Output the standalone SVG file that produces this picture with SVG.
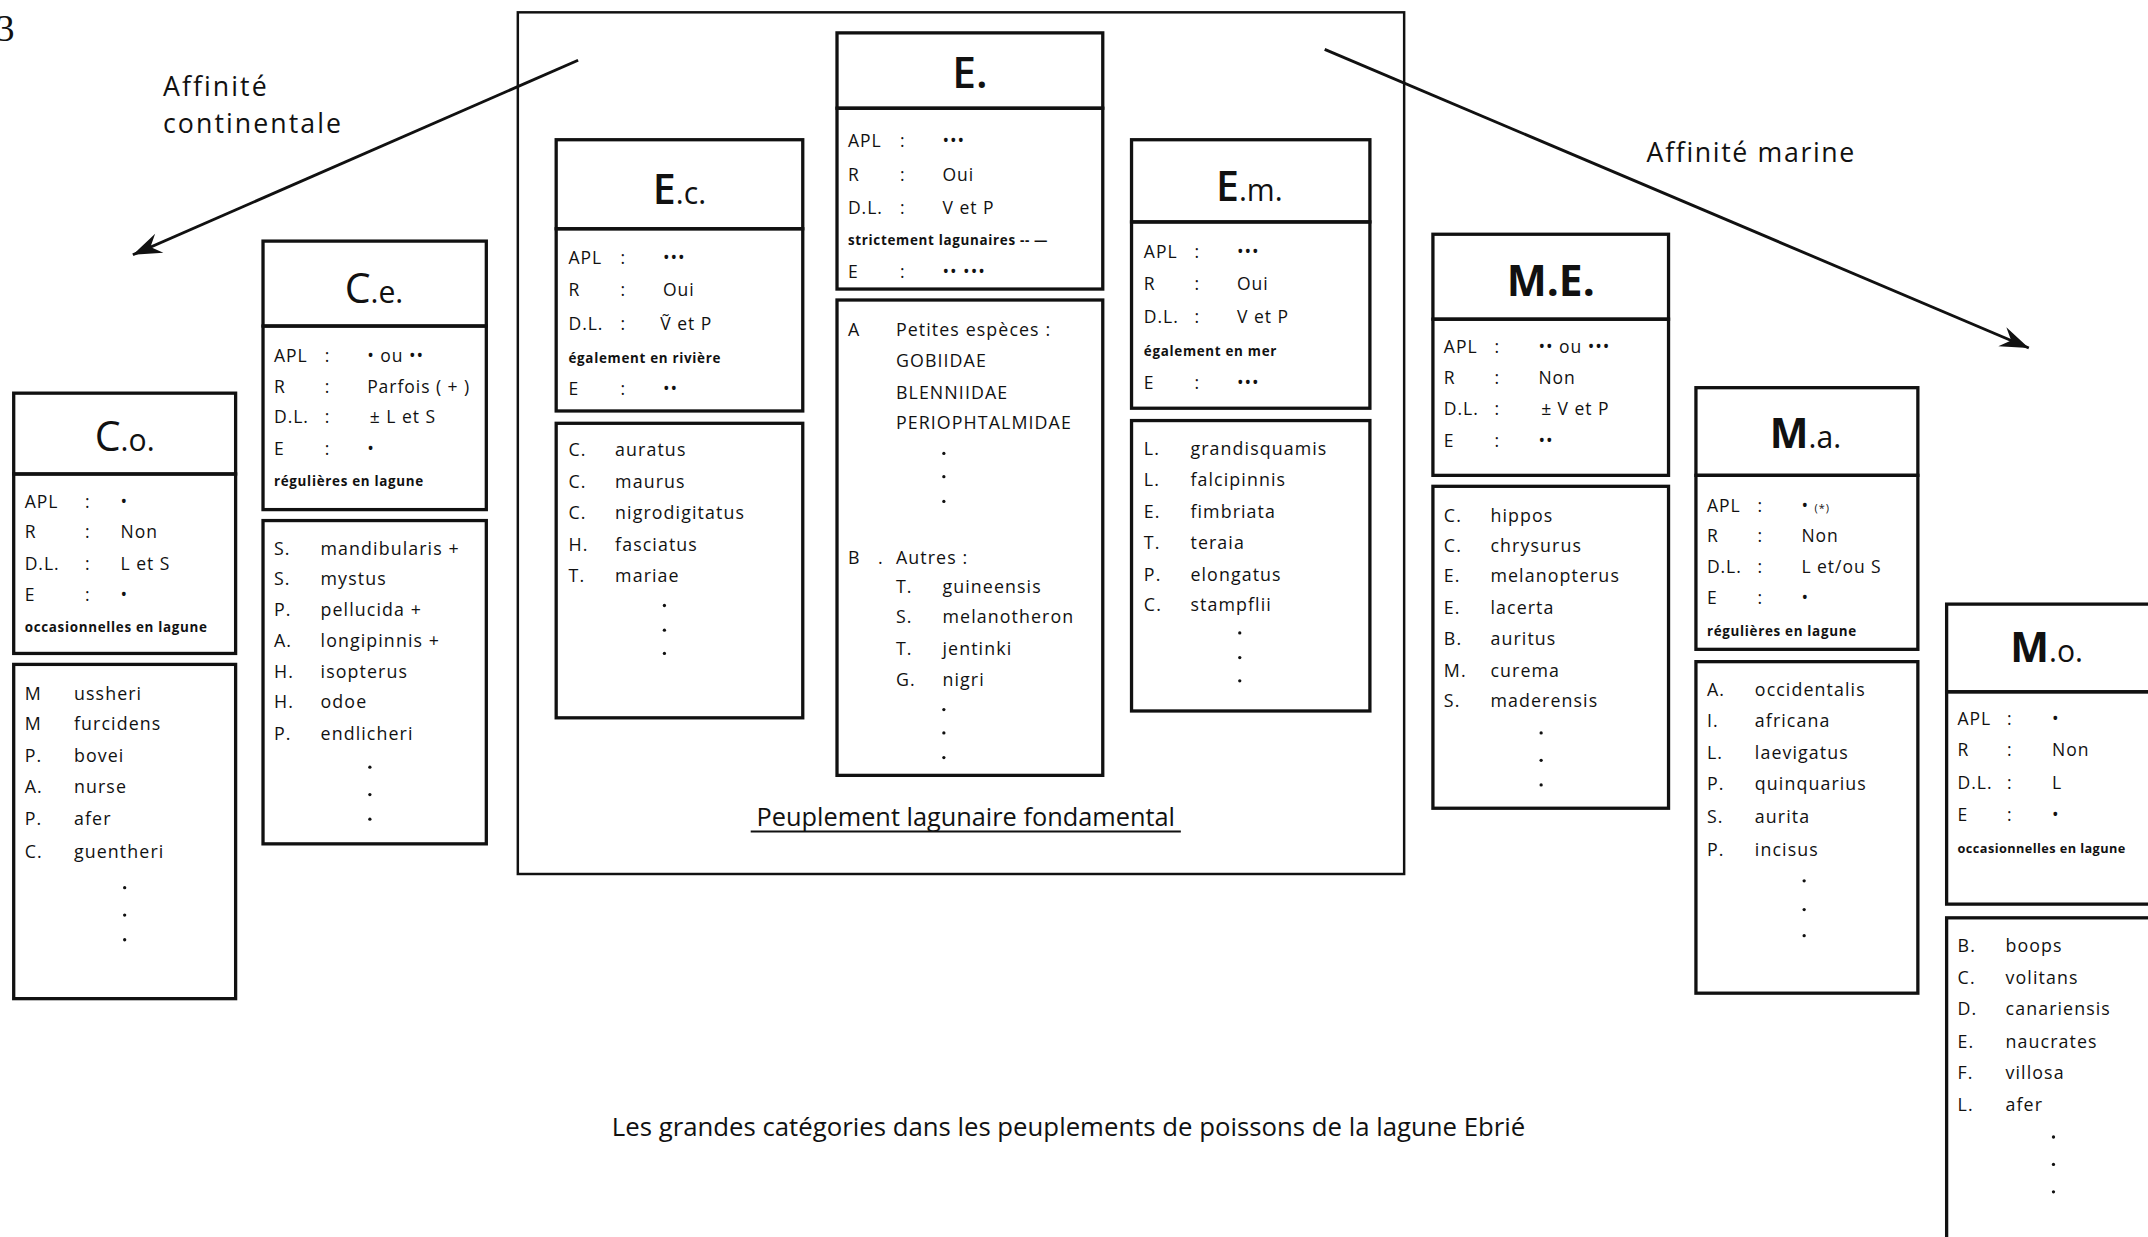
<svg xmlns="http://www.w3.org/2000/svg" width="2148" height="1237" viewBox="0 0 2148 1237">
<style>
.bx{fill:none;stroke:#111;stroke-width:2.4}
.ob{fill:none;stroke:#111;stroke-width:1.8}
.ln{fill:none;stroke:#111;stroke-width:2.1}
text{font-family:"Open Sans","Liberation Sans",sans-serif;fill:#111}
.a{font-size:12.8px;letter-spacing:0.7px}
.s{font-size:13px;letter-spacing:0.8px}
.n{font-size:9.8px;font-weight:700;letter-spacing:0.5px}
.t{text-anchor:middle}
.big{font-size:30px}
.sm{font-size:22px}
.lab{font-size:19.5px;letter-spacing:1.5px}
.dot{fill:#111}
</style>
<defs>
<marker id="ah" markerUnits="userSpaceOnUse" markerWidth="30" markerHeight="20" viewBox="-22 -10 24 20" refX="0" refY="0" orient="auto">
<path d="M0,0 L-21,-7.5 L-14,0 L-21,7.5 Z" fill="#111"/>
</marker>
</defs>
<rect width="2148" height="1237" fill="#fff"/>
<g transform="scale(1.3699)">
<text x="-3" y="30" style="font-family:'Liberation Serif',serif;font-size:27px">3</text>

<g id="connectors">
<line class="ln" x1="422" y1="44" x2="97" y2="186" marker-end="url(#ah)"/>
<line class="ln" x1="967" y1="36" x2="1481" y2="254" marker-end="url(#ah)"/>
</g>
<text class="lab" x="119" y="70">Affinité</text>
<text class="lab" x="119" y="97">continentale</text>
<text class="lab" x="1202" y="118" style="letter-spacing:1.2px">Affinité marine</text>

<g id="peuplement">
<rect class="ob" x="378" y="9" width="647" height="629"/>
<text x="705" y="603" class="t" style="font-size:18.5px">Peuplement lagunaire fondamental</text>
<line x1="548" y1="607" x2="862" y2="607" stroke="#111" stroke-width="1.5"/>
</g>

<g id="Co">
<rect class="bx" x="10" y="287" width="162" height="59"/>
<rect class="bx" x="10" y="346" width="162" height="131"/>
<rect class="bx" x="10" y="485" width="162" height="244"/>
<text x="91" y="329" class="t"><tspan class="big">C</tspan><tspan class="sm">.o.</tspan></text>
<g class="a">
<text x="18" y="371">APL</text><text x="62" y="371">:</text><text x="88" y="371">•</text>
<text x="18" y="393">R</text><text x="62" y="393">:</text><text x="88" y="393">Non</text>
<text x="18" y="416">D.L.</text><text x="62" y="416">:</text><text x="88" y="416">L et S</text>
<text x="18" y="439">E</text><text x="62" y="439">:</text><text x="88" y="439">•</text>
</g>
<text class="n" x="18" y="461">occasionnelles  en lagune</text>
<g class="s">
<text x="18" y="511">M</text><text x="54" y="511">ussheri</text>
<text x="18" y="533">M</text><text x="54" y="533">furcidens</text>
<text x="18" y="556">P.</text><text x="54" y="556">bovei</text>
<text x="18" y="579">A.</text><text x="54" y="579">nurse</text>
<text x="18" y="602">P.</text><text x="54" y="602">afer</text>
<text x="18" y="626">C.</text><text x="54" y="626">guentheri</text>
</g>
<circle class="dot" cx="91" cy="648" r="1.2"/><circle class="dot" cx="91" cy="668" r="1.2"/><circle class="dot" cx="91" cy="686" r="1.2"/>
</g>

<g id="Ce">
<rect class="bx" x="192" y="176" width="163" height="62"/>
<rect class="bx" x="192" y="238" width="163" height="134"/>
<rect class="bx" x="192" y="380" width="163" height="236"/>
<text x="273" y="221" class="t"><tspan class="big">C</tspan><tspan class="sm">.e.</tspan></text>
<g class="a">
<text x="200" y="264">APL</text><text x="237" y="264">:</text><text x="268" y="264">• ou ••</text>
<text x="200" y="287">R</text><text x="237" y="287">:</text><text x="268" y="287">Parfois ( + )</text>
<text x="200" y="309">D.L.</text><text x="237" y="309">:</text><text x="270" y="309">± L et S</text>
<text x="200" y="332">E</text><text x="237" y="332">:</text><text x="268" y="332">•</text>
</g>
<text class="n" x="200" y="355">régulières en lagune</text>
<g class="s">
<text x="200" y="405">S.</text><text x="234" y="405">mandibularis +</text>
<text x="200" y="427">S.</text><text x="234" y="427">mystus</text>
<text x="200" y="450">P.</text><text x="234" y="450">pellucida +</text>
<text x="200" y="472">A.</text><text x="234" y="472">longipinnis +</text>
<text x="200" y="495">H.</text><text x="234" y="495">isopterus</text>
<text x="200" y="517">H.</text><text x="234" y="517">odoe</text>
<text x="200" y="540">P.</text><text x="234" y="540">endlicheri</text>
</g>
<circle class="dot" cx="270" cy="560" r="1.2"/><circle class="dot" cx="270" cy="580" r="1.2"/><circle class="dot" cx="270" cy="598" r="1.2"/>
</g>

<g id="Ec">
<rect class="bx" x="406" y="102" width="180" height="65"/>
<rect class="bx" x="406" y="167" width="180" height="133"/>
<rect class="bx" x="406" y="309" width="180" height="215"/>
<text x="496" y="149" class="t"><tspan class="big" font-weight="600">E</tspan><tspan class="sm">.c.</tspan></text>
<g class="a">
<text x="415" y="193">APL</text><text x="453" y="193">:</text><text x="484" y="193">•••</text>
<text x="415" y="216">R</text><text x="453" y="216">:</text><text x="484" y="216">Oui</text>
<text x="415" y="241">D.L.</text><text x="453" y="241">:</text><text x="482" y="241">Ṽ et P</text>
<text x="415" y="288">E</text><text x="453" y="288">:</text><text x="484" y="288">••</text>
</g>
<text class="n" x="415" y="265">également en rivière</text>
<g class="s">
<text x="415" y="333">C.</text><text x="449" y="333">auratus</text>
<text x="415" y="356">C.</text><text x="449" y="356">maurus</text>
<text x="415" y="379">C.</text><text x="449" y="379">nigrodigitatus</text>
<text x="415" y="402">H.</text><text x="449" y="402">fasciatus</text>
<text x="415" y="425">T.</text><text x="449" y="425">mariae</text>
</g>
<circle class="dot" cx="485" cy="442" r="1.2"/><circle class="dot" cx="485" cy="460" r="1.2"/><circle class="dot" cx="485" cy="477" r="1.2"/>
</g>

<g id="E">
<rect class="bx" x="611" y="24" width="194" height="55"/>
<rect class="bx" x="611" y="79" width="194" height="132"/>
<rect class="bx" x="611" y="219" width="194" height="347"/>
<text x="708" y="64" class="t" style="font-size:31px;font-weight:600">E.</text>
<g class="a">
<text x="619" y="107">APL</text><text x="657" y="107">:</text><text x="688" y="107">•••</text>
<text x="619" y="132">R</text><text x="657" y="132">:</text><text x="688" y="132">Oui</text>
<text x="619" y="156">D.L.</text><text x="657" y="156">:</text><text x="688" y="156">V et P</text>
<text x="619" y="203">E</text><text x="657" y="203">:</text><text x="688" y="203">•• •••</text>
</g>
<text class="n" x="619" y="179">strictement lagunaires -- —</text>
<g class="s">
<text x="619" y="245">A</text><text x="654" y="245">Petites espèces :</text>
<text x="654" y="268">GOBIIDAE</text>
<text x="654" y="291">BLENNIIDAE</text>
<text x="654" y="313">PERIOPHTALMIDAE</text>
<text x="619" y="412">B</text><text x="641" y="412">.</text><text x="654" y="412">Autres :</text>
<text x="654" y="433">T.</text><text x="688" y="433">guineensis</text>
<text x="654" y="455">S.</text><text x="688" y="455">melanotheron</text>
<text x="654" y="478">T.</text><text x="688" y="478">jentinki</text>
<text x="654" y="501">G.</text><text x="688" y="501">nigri</text>
</g>
<circle class="dot" cx="689" cy="331" r="1.2"/><circle class="dot" cx="689" cy="348" r="1.2"/><circle class="dot" cx="689" cy="366" r="1.2"/>
<circle class="dot" cx="689" cy="518" r="1.2"/><circle class="dot" cx="689" cy="535" r="1.2"/><circle class="dot" cx="689" cy="553" r="1.2"/>
</g>

<g id="Em">
<rect class="bx" x="826" y="102" width="174" height="60"/>
<rect class="bx" x="826" y="162" width="174" height="136"/>
<rect class="bx" x="826" y="307" width="174" height="212"/>
<text x="912" y="147" class="t"><tspan class="big" font-weight="600">E</tspan><tspan class="sm">.m.</tspan></text>
<g class="a">
<text x="835" y="188">APL</text><text x="872" y="188">:</text><text x="903" y="188">•••</text>
<text x="835" y="212">R</text><text x="872" y="212">:</text><text x="903" y="212">Oui</text>
<text x="835" y="236">D.L.</text><text x="872" y="236">:</text><text x="903" y="236">V et P</text>
<text x="835" y="284">E</text><text x="872" y="284">:</text><text x="903" y="284">•••</text>
</g>
<text class="n" x="835" y="260">également en mer</text>
<g class="s">
<text x="835" y="332">L.</text><text x="869" y="332">grandisquamis</text>
<text x="835" y="355">L.</text><text x="869" y="355">falcipinnis</text>
<text x="835" y="378">E.</text><text x="869" y="378">fimbriata</text>
<text x="835" y="401">T.</text><text x="869" y="401">teraia</text>
<text x="835" y="424">P.</text><text x="869" y="424">elongatus</text>
<text x="835" y="446">C.</text><text x="869" y="446">stampflii</text>
</g>
<circle class="dot" cx="905" cy="462" r="1.2"/><circle class="dot" cx="905" cy="480" r="1.2"/><circle class="dot" cx="905" cy="497" r="1.2"/>
</g>

<g id="ME">
<rect class="bx" x="1046" y="171" width="172" height="62"/>
<rect class="bx" x="1046" y="233" width="172" height="114"/>
<rect class="bx" x="1046" y="355" width="172" height="235"/>
<text x="1132" y="216" class="t" style="font-size:31px;font-weight:700">M.E.</text>
<g class="a">
<text x="1054" y="258">APL</text><text x="1091" y="258">:</text><text x="1123" y="258">•• ou •••</text>
<text x="1054" y="280">R</text><text x="1091" y="280">:</text><text x="1123" y="280">Non</text>
<text x="1054" y="303">D.L.</text><text x="1091" y="303">:</text><text x="1125" y="303">± V et P</text>
<text x="1054" y="326">E</text><text x="1091" y="326">:</text><text x="1123" y="326">••</text>
</g>
<g class="s">
<text x="1054" y="381">C.</text><text x="1088" y="381">hippos</text>
<text x="1054" y="403">C.</text><text x="1088" y="403">chrysurus</text>
<text x="1054" y="425">E.</text><text x="1088" y="425">melanopterus</text>
<text x="1054" y="448">E.</text><text x="1088" y="448">lacerta</text>
<text x="1054" y="471">B.</text><text x="1088" y="471">auritus</text>
<text x="1054" y="494">M.</text><text x="1088" y="494">curema</text>
<text x="1054" y="516">S.</text><text x="1088" y="516">maderensis</text>
</g>
<circle class="dot" cx="1125" cy="535" r="1.2"/><circle class="dot" cx="1125" cy="555" r="1.2"/><circle class="dot" cx="1125" cy="573" r="1.2"/>
</g>

<g id="Ma">
<rect class="bx" x="1238" y="283" width="162" height="64"/>
<rect class="bx" x="1238" y="347" width="162" height="127"/>
<rect class="bx" x="1238" y="483" width="162" height="242"/>
<text x="1318" y="327" class="t"><tspan class="big" font-weight="700">M</tspan><tspan class="sm">.a.</tspan></text>
<g class="a">
<text x="1246" y="374">APL</text><text x="1283" y="374">:</text><text x="1315" y="374">• <tspan font-size="8">(*)</tspan></text>
<text x="1246" y="396">R</text><text x="1283" y="396">:</text><text x="1315" y="396">Non</text>
<text x="1246" y="418">D.L.</text><text x="1283" y="418">:</text><text x="1315" y="418">L et/ou S</text>
<text x="1246" y="441">E</text><text x="1283" y="441">:</text><text x="1315" y="441">•</text>
</g>
<text class="n" x="1246" y="464">régulières en lagune</text>
<g class="s">
<text x="1246" y="508">A.</text><text x="1281" y="508">occidentalis</text>
<text x="1246" y="531">I.</text><text x="1281" y="531">africana</text>
<text x="1246" y="554">L.</text><text x="1281" y="554">laevigatus</text>
<text x="1246" y="577">P.</text><text x="1281" y="577">quinquarius</text>
<text x="1246" y="601">S.</text><text x="1281" y="601">aurita</text>
<text x="1246" y="625">P.</text><text x="1281" y="625">incisus</text>
</g>
<circle class="dot" cx="1317" cy="643" r="1.2"/><circle class="dot" cx="1317" cy="664" r="1.2"/><circle class="dot" cx="1317" cy="683" r="1.2"/>
</g>

<g id="Mo">
<rect class="bx" x="1421" y="441" width="160" height="64"/>
<rect class="bx" x="1421" y="505" width="160" height="155"/>
<rect class="bx" x="1421" y="670" width="160" height="250"/>
<text x="1494" y="483" class="t"><tspan class="big" font-weight="700">M</tspan><tspan class="sm">.o.</tspan></text>
<g class="a">
<text x="1429" y="529">APL</text><text x="1465" y="529">:</text><text x="1498" y="529">•</text>
<text x="1429" y="552">R</text><text x="1465" y="552">:</text><text x="1498" y="552">Non</text>
<text x="1429" y="576">D.L.</text><text x="1465" y="576">:</text><text x="1498" y="576">L</text>
<text x="1429" y="599">E</text><text x="1465" y="599">:</text><text x="1498" y="599">•</text>
</g>
<text class="n" x="1429" y="623" style="font-size:9.3px;letter-spacing:0.3px">occasionnelles en lagune</text>
<g class="s">
<text x="1429" y="695">B.</text><text x="1464" y="695">boops</text>
<text x="1429" y="718">C.</text><text x="1464" y="718">volitans</text>
<text x="1429" y="741">D.</text><text x="1464" y="741">canariensis</text>
<text x="1429" y="765">E.</text><text x="1464" y="765">naucrates</text>
<text x="1429" y="788">F.</text><text x="1464" y="788">villosa</text>
<text x="1429" y="811">L.</text><text x="1464" y="811">afer</text>
</g>
<circle class="dot" cx="1499" cy="830" r="1.2"/><circle class="dot" cx="1499" cy="850" r="1.2"/><circle class="dot" cx="1499" cy="870" r="1.2"/>
</g>

<text x="780" y="829" class="t" style="font-size:18.8px">Les grandes catégories dans les peuplements de poissons de la lagune Ebrié</text>
</g>
</svg>
